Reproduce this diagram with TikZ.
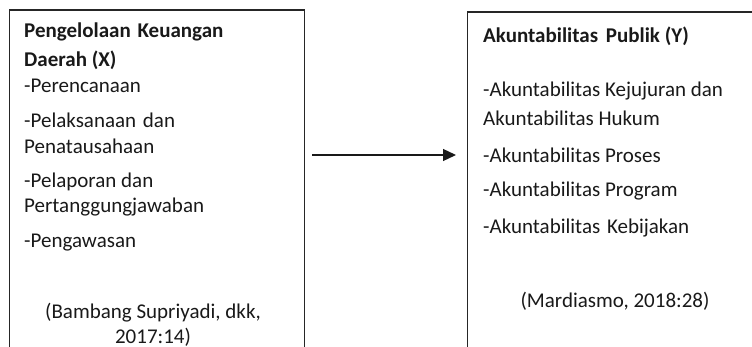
\documentclass[tikz,border=0pt]{standalone}
\usepackage{fontspec}
\setmainfont{Carlito}
\usetikzlibrary{arrows.meta}
\begin{document}
\begin{tikzpicture}[x=1pt,y=-1pt,
  boxframe/.style={draw=black!85,line width=1.3pt,inner sep=0pt,anchor=north west},
  txt/.style={anchor=base west,inner sep=0pt,font=\fontsize{21}{24}\selectfont,text=black!90},
  ctxt/.style={anchor=base,inner sep=0pt,font=\fontsize{21}{24}\selectfont,text=black!90},
  btxt/.style={txt,font=\fontsize{21}{24}\selectfont\bfseries},
  link/.style={line width=1.3pt,draw=black!90,-{Triangle[length=13pt,width=12pt]}}]
\useasboundingbox (0,0) rectangle (752,347);
\node[boxframe,minimum width=295.5pt,minimum height=400pt] (X) at (8.5,9.5) {};
\node[boxframe,minimum width=320pt,minimum height=400pt] (Y) at (467,11.5) {};
% left texts
\node[btxt] (x1) at (24,38) {Pengelolaan\hspace{2pt} Keuangan};
\node[btxt] (x2) at (24,67) {Daerah (X)};
\node[txt] (x3) at (24,93) {-Perencanaan};
\node[txt] (x4) at (24,128) {-Pelaksanaan\hspace{2pt} dan};
\node[txt] (x5) at (24,154) {Penatausahaan};
\node[txt] (x6) at (24,188) {-Pelaporan dan};
\node[txt] (x7) at (24,213) {Pertanggungjawaban};
\node[txt] (x8) at (24,248) {-Pengawasan};
\node[ctxt] (x9) at (153,318) {(Bambang Supriyadi, dkk,};
\node[ctxt] (x10) at (153,343) {2017:14)};
% right texts
\node[btxt] (y1) at (483,43) {Akuntabilitas\hspace{3pt} Publik (Y)};
\node[txt] (y2) at (483,97) {-Akuntabilitas Kejujuran dan};
\node[txt] (y3) at (483,126) {Akuntabilitas Hukum};
\node[txt] (y4) at (483,163) {-Akuntabilitas Proses};
\node[txt] (y5) at (483,197) {-Akuntabilitas Program};
\node[txt] (y6) at (483,234) {-Akuntabilitas\hspace{2pt} Kebijakan};
\node[ctxt] (y7) at (615,307) {(Mardiasmo, 2018:28)};
% connector
\draw[link,shorten <=7pt,shorten >=11pt] (X.east |- 0,155) -- (Y.west |- 0,155);
\end{tikzpicture}
\end{document}
